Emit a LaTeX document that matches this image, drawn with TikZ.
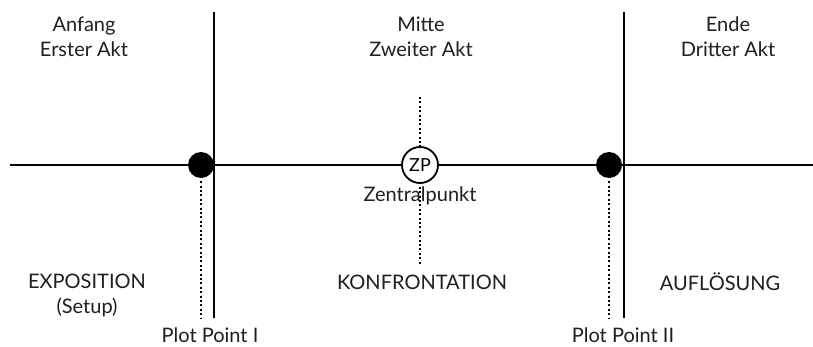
\documentclass[tikz,border=0pt]{standalone}
\usepackage{fontspec}
\setmainfont{Lato}
\begin{document}
\begin{tikzpicture}[x=1pt,y=-1pt,
  solidline/.style={line width=2.8pt,black},
  dotline/.style={line width=2.2pt,black,dash pattern=on 2pt off 2.4pt},
  lbl/.style={font=\fontsize{20}{25}\selectfont,text=black!88,align=center,inner sep=0pt},
  ppdot/.style={circle,fill=black,minimum size=26pt,inner sep=0pt},
  zpcirc/.style={circle,draw=black,line width=1.8pt,fill=white,minimum size=36pt,inner sep=0pt,font=\fontsize{18}{22}\selectfont}]
\useasboundingbox (0,0) rectangle (813,347);
\fill[white] (0,0) rectangle (813,347);

% act boundaries
\coordinate (b1top) at (214,12);
\coordinate (b1bot) at (214,318);
\coordinate (b2top) at (624,12);
\coordinate (b2bot) at (624,318);
\draw[solidline] (b1top) -- (b1bot);
\draw[solidline] (b2top) -- (b2bot);

% time axis
\coordinate (axL) at (10,165);
\coordinate (axR) at (813,165);
\draw[solidline] (axL) -- (axR);

% plot points
\node[ppdot] (pp1) at (201,165) {};
\node[ppdot] (pp2) at (609,165) {};
\coordinate (pp1end) at (201,318);
\coordinate (pp2end) at (609,318);
\draw[dotline] (pp1.south) ++(0,3) -- (pp1end);
\draw[dotline] (pp2.south) ++(0,3) -- (pp2end);

% central point with its dotted axis
\node[zpcirc] (zp) at (420,165) {ZP};
\coordinate (zptop) at (420,97);
\coordinate (zpbot) at (420,265);
\draw[dotline] (zptop) -- (zp.north);
\draw[dotline] (zp.south) ++(0,3) -- (zpbot);
\node[lbl] (zentral) at (420,196) {Zentralpunkt};

% act headings
\node[lbl] (akt1) at (84,37) {Anfang\\Erster Akt};
\node[lbl] (akt2) at (421,37) {Mitte\\Zweiter Akt};
\node[lbl] (akt3) at (728,37) {Ende\\Dritter Akt};

% section names
\node[lbl] (expo) at (87,295) {EXPOSITION\\(Setup)};
\node[lbl] (konf) at (422,282) {KONFRONTATION};
\node[lbl] (aufl) at (720,282) {AUFLÖSUNG};

% plot point labels
\node[lbl] (pp1lbl) at (210,335) {Plot Point I};
\node[lbl] (pp2lbl) at (623,335) {Plot Point II};
\end{tikzpicture}
\end{document}
